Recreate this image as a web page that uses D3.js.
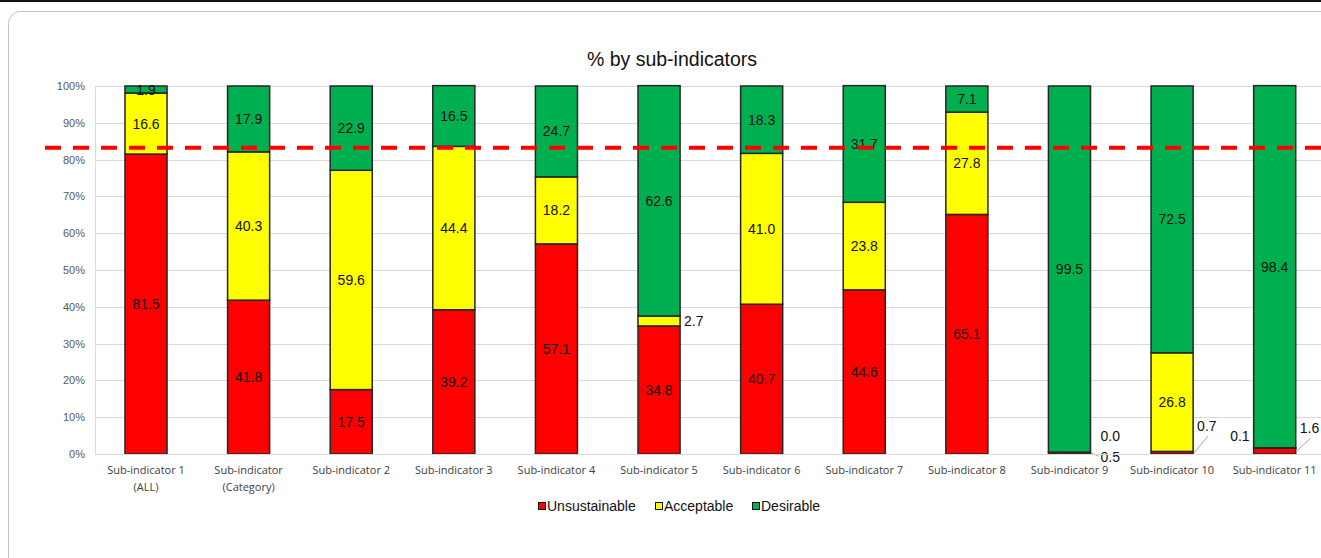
<!DOCTYPE html>
<html>
<head>
<meta charset="utf-8">
<script src="https://cdn.jsdelivr.net/npm/d3@7"></script>
<style>
  html, body { margin: 0; padding: 0; background: #fff; }
  svg { display: block; }
</style>
</head>
<body>
<svg id="chart" width="1321" height="558"></svg>
<script>
// Categories along the x axis (display lines split by "\n")
const categories = [
  "Sub-indicator 1\n(ALL)", "Sub-indicator\n(Category)", "Sub-indicator 2", "Sub-indicator 3",
  "Sub-indicator 4", "Sub-indicator 5", "Sub-indicator 6", "Sub-indicator 7",
  "Sub-indicator 8", "Sub-indicator 9", "Sub-indicator 10", "Sub-indicator 11"
];
// Series values (% of each sub-indicator)
const unsustainable = [81.5, 41.8, 17.5, 39.2, 57.1, 34.8, 40.7, 44.6, 65.1, 0.5, 0.7, 1.6];
const acceptable    = [16.6, 40.3, 59.6, 44.4, 18.2,  2.7, 41.0, 23.8, 27.8, 0.0, 26.8, 0.1];
const desirable     = [ 1.9, 17.9, 22.9, 16.5, 24.7, 62.6, 18.3, 31.7,  7.1, 99.5, 72.5, 98.4];
const seriesNames = ["Unsustainable", "Acceptable", "Desirable"];
const seriesColors = ["#ff0000", "#ffff00", "#00b050"];
const yTicks = [0, 10, 20, 30, 40, 50, 60, 70, 80, 90, 100];
const threshold = 83.2;

// Labels placed beside thin segments:
// [category index, series index, side, text dx, text dy, leader dx, leader dy]
const outsideLabels = [
  [5, 1, "right", 3, 0, 0, 0],
  [9, 1, "right", 9, -16, 0, 0],
  [9, 0, "right", 9, 4, 7, 3],
  [10, 0, "right", 3, -27, 14, -17],
  [11, 1, "left", -3, -12, 0, 0],
  [11, 0, "right", 3, -23, 14, -13]
];

const svg = d3.select("#chart");
const W = 1321;
const labelFont = "Liberation Sans, Arial, sans-serif";

// frame lines
svg.append("rect").attr("x", 0).attr("y", 0).attr("width", W).attr("height", 2).attr("fill", "#111");
svg.append("rect").attr("x", 8.5).attr("y", 11.5).attr("width", 1500).attr("height", 700)
  .attr("rx", 12).attr("fill", "#fff").attr("stroke", "#c0c0c0").attr("stroke-width", 1);

const x = d3.scaleBand().domain(categories).range([94.7, 1326]).paddingInner(0.59).paddingOuter(0.295);
const y = d3.scaleLinear().domain([0, 100]).range([454, 86]);

// title
svg.append("text").attr("x", 672).attr("y", 66).attr("text-anchor", "middle")
  .attr("font-family", labelFont).attr("font-size", 19.5).attr("fill", "#111")
  .text("% by sub-indicators");

// gridlines
svg.append("g").selectAll("line").data(yTicks).join("line")
  .attr("x1", 95).attr("x2", W).attr("y1", d => Math.round(y(d)) + 0.5).attr("y2", d => Math.round(y(d)) + 0.5)
  .attr("stroke", "#d9d9d9").attr("stroke-width", 1);
svg.append("line").attr("x1", 95.5).attr("x2", 95.5).attr("y1", y(100)).attr("y2", y(0))
  .attr("stroke", "#d9d9d9");

// y tick labels
svg.append("g").selectAll("text").data(yTicks).join("text")
  .attr("x", 85).attr("y", d => y(d)).attr("dy", "0.36em").attr("text-anchor", "end")
  .attr("font-family", labelFont).attr("font-size", 11).attr("fill", "#595959")
  .text(d => d + "%");

// stacked data
const rows = categories.map((c, i) => ({ cat: c, Unsustainable: unsustainable[i], Acceptable: acceptable[i], Desirable: desirable[i] }));
const stack = d3.stack().keys(seriesNames)(rows);
const valuesBySeries = [unsustainable, acceptable, desirable];

const layers = svg.append("g").selectAll("g").data(stack).join("g")
  .attr("fill", (d, i) => seriesColors[i]);
layers.selectAll("rect").data(d => d).join("rect")
  .attr("x", d => x(d.data.cat))
  .attr("width", x.bandwidth())
  .attr("y", d => y(d[1]))
  .attr("height", d => y(d[0]) - y(d[1]))
  .attr("stroke", "#262626").attr("stroke-width", 1.5);

// in-segment labels
const isOutside = (ci, si) => outsideLabels.some(o => o[0] === ci && o[1] === si);
stack.forEach((layer, si) => {
  layer.forEach((d, ci) => {
    if (isOutside(ci, si)) return;
    svg.append("text")
      .attr("x", x(d.data.cat) + x.bandwidth() / 2)
      .attr("y", (y(d[0]) + y(d[1])) / 2)
      .attr("dy", "0.36em").attr("text-anchor", "middle")
      .attr("font-family", labelFont).attr("font-size", 14).attr("fill", "#111")
      .text(valuesBySeries[si][ci].toFixed(1));
  });
});

// side labels with leader lines where needed
outsideLabels.forEach(([ci, si, side, dx, dy, lx, ly]) => {
  const d = stack[si][ci];
  const edge = side === "right" ? x(d.data.cat) + x.bandwidth() + 1 : x(d.data.cat) - 1;
  const my = (y(d[0]) + y(d[1])) / 2;
  if (lx || ly) {
    svg.append("line").attr("x1", edge).attr("y1", my)
      .attr("x2", edge + lx).attr("y2", my + ly)
      .attr("stroke", "#a6a6a6").attr("stroke-width", 1);
  }
  svg.append("text").attr("x", edge + dx).attr("y", my + dy).attr("dy", "0.36em")
    .attr("text-anchor", side === "right" ? "start" : "end")
    .attr("font-family", labelFont).attr("font-size", 14).attr("fill", "#111")
    .text(valuesBySeries[si][ci].toFixed(1));
});

// x axis line and labels
svg.append("line").attr("x1", 95).attr("x2", W).attr("y1", 454.5).attr("y2", 454.5).attr("stroke", "#d9d9d9");
const xg = svg.append("g");
categories.forEach(c => {
  const t = xg.append("text").attr("x", x(c) + x.bandwidth() / 2).attr("y", 474)
    .attr("text-anchor", "middle").attr("font-family", "Open Sans, Lato, sans-serif")
    .attr("font-size", 11).attr("fill", "#404040");
  c.split("\n").forEach((line, k) => {
    t.append("tspan").attr("x", x(c) + x.bandwidth() / 2).attr("dy", k ? 17 : 0).text(line);
  });
});

// threshold line
svg.append("line").attr("x1", 45).attr("x2", W).attr("y1", y(threshold)).attr("y2", y(threshold))
  .attr("stroke", "#ff0000").attr("stroke-width", 4).attr("stroke-dasharray", "16,12");

// legend
const legendX = [538, 655, 752];
const lg = svg.append("g");
seriesNames.forEach((n, i) => {
  lg.append("rect").attr("x", legendX[i] + 0.5).attr("y", 502.5).attr("width", 7).attr("height", 7)
    .attr("fill", seriesColors[i]).attr("stroke", "#111");
  lg.append("text").attr("x", legendX[i] + 9).attr("y", 506).attr("dy", "0.36em")
    .attr("font-family", labelFont).attr("font-size", 14).attr("fill", "#111").text(n);
});
</script>
</body>
</html>
